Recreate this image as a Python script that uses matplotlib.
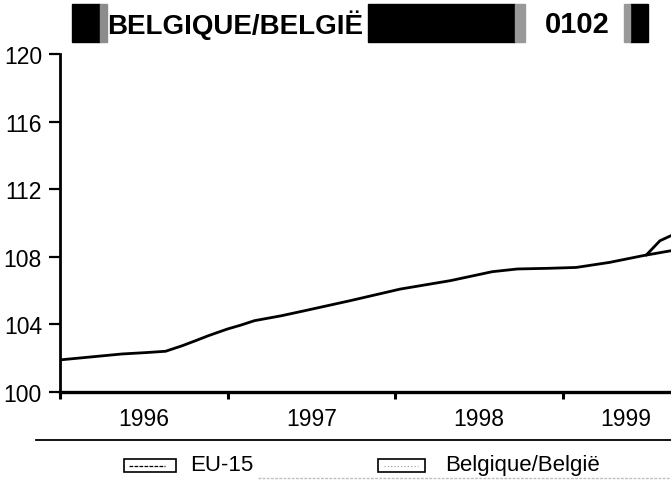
import matplotlib
matplotlib.use("Agg")
import matplotlib.pyplot as plt
from matplotlib.patches import Rectangle

plt.rcParams['font.family'] = ['Liberation Sans', 'DejaVu Sans']

# ---- data ----
time_eu = [1996.00, 1996.37, 1996.51, 1996.63, 1996.73, 1996.81, 1996.885, 1997.00,
           1997.08, 1997.16, 1997.32, 1997.46, 1997.73, 1998.03, 1998.33, 1998.58,
           1998.73, 1998.92, 1999.08, 1999.28, 1999.48, 1999.646]
eu15 = [101.90, 102.25, 102.33, 102.41, 102.74, 103.04, 103.33, 103.73,
        103.96, 104.22, 104.51, 104.81, 105.40, 106.09, 106.59, 107.12,
        107.28, 107.32, 107.37, 107.67, 108.07, 108.36]
time_be = [1999.50, 1999.58, 1999.646]
belgique = [108.12, 108.95, 109.25]

year_labels = ['1996', '1997', '1998', '1999']
year_label_pos = [1996.5, 1997.5, 1998.5, 1999.375]
year_ticks = [1996, 1997, 1998, 1999]
y_ticks = [100, 104, 108, 112, 116, 120]
series_names = ['EU-15', 'Belgique/België']
title_text = 'BELGIQUE/BELGIË'
code_text = '0102'

W, H = 671, 481
fig = plt.figure(figsize=(W / 100, H / 100), dpi=100)

ax = fig.add_axes([60 / W, 1 - 393 / H, 1 - 60 / W, (393 - 55) / H])
ax.plot(time_eu, eu15, color='black', lw=2.0, solid_capstyle='round',
        solid_joinstyle='round', zorder=3)
ax.plot(time_be, belgique, color='black', lw=2.0, solid_joinstyle='round', zorder=3)
ax.set_xlim(1996, 1999.646)
ax.set_ylim(100, 120)

for s in ['top', 'right']:
    ax.spines[s].set_visible(False)
ax.spines['left'].set_linewidth(2.0)
ax.spines['bottom'].set_linewidth(2.4)

ax.set_yticks(y_ticks)
ax.set_yticklabels([str(v) for v in y_ticks])
ax.tick_params(axis='y', direction='out', length=8, width=1.6, pad=5,
               labelsize=16.5, colors='black')

ax.set_xticks(year_ticks)
ax.set_xticklabels([''] * len(year_ticks))
ax.tick_params(axis='x', which='major', direction='out', length=5, width=2.2)
ax.set_xticks(year_label_pos, minor=True)
ax.set_xticklabels(year_labels, minor=True)
ax.tick_params(axis='x', which='minor', length=0, pad=11, labelsize=16.5)

# ---- overlay in pixel coordinates for banner & legend ----
ov = fig.add_axes([0, 0, 1, 1], zorder=5)
ov.set_xlim(0, W)
ov.set_ylim(H, 0)
ov.axis('off')
ov.patch.set_alpha(0)

# banner
ov.add_patch(Rectangle((72, 5), 28, 38, color='black'))
ov.add_patch(Rectangle((100, 5), 7, 38, color='0.55'))
ov.add_patch(Rectangle((368, 5), 147, 38, color='black'))
ov.add_patch(Rectangle((515, 5), 10, 38, color='0.6'))
ov.add_patch(Rectangle((630, 5), 18, 38, color='black'))
ov.add_patch(Rectangle((624, 5), 6, 38, color='0.6'))
ov.text(107, 25, title_text, fontsize=20, fontweight='bold', ha='left', va='center')
ov.text(545, 25, code_text, fontsize=21, fontweight='bold', ha='left', va='center')

# separator
ov.plot([36, W], [441, 441], color='black', lw=1.3)
ov.plot([258, W], [479, 479], color='0.75', lw=1, ls=(0, (2, 1)))

# legend
ov.add_patch(Rectangle((124, 460), 52, 13, fill=False, ec='black', lw=1.2))
ov.plot([129, 165], [466.5, 466.5], color='black', lw=0.9, ls=(0, (3, 1)))
ov.text(190, 466, series_names[0], fontsize=16, ha='left', va='center')
ov.add_patch(Rectangle((378, 460), 47, 13, fill=False, ec='black', lw=1.2))
ov.plot([384, 418], [466.5, 466.5], color='0.6', lw=0.8, ls=(0, (1, 2)))
ov.text(445, 466, series_names[1], fontsize=16, ha='left', va='center')

fig.savefig('out.png', dpi=100, facecolor='white')
